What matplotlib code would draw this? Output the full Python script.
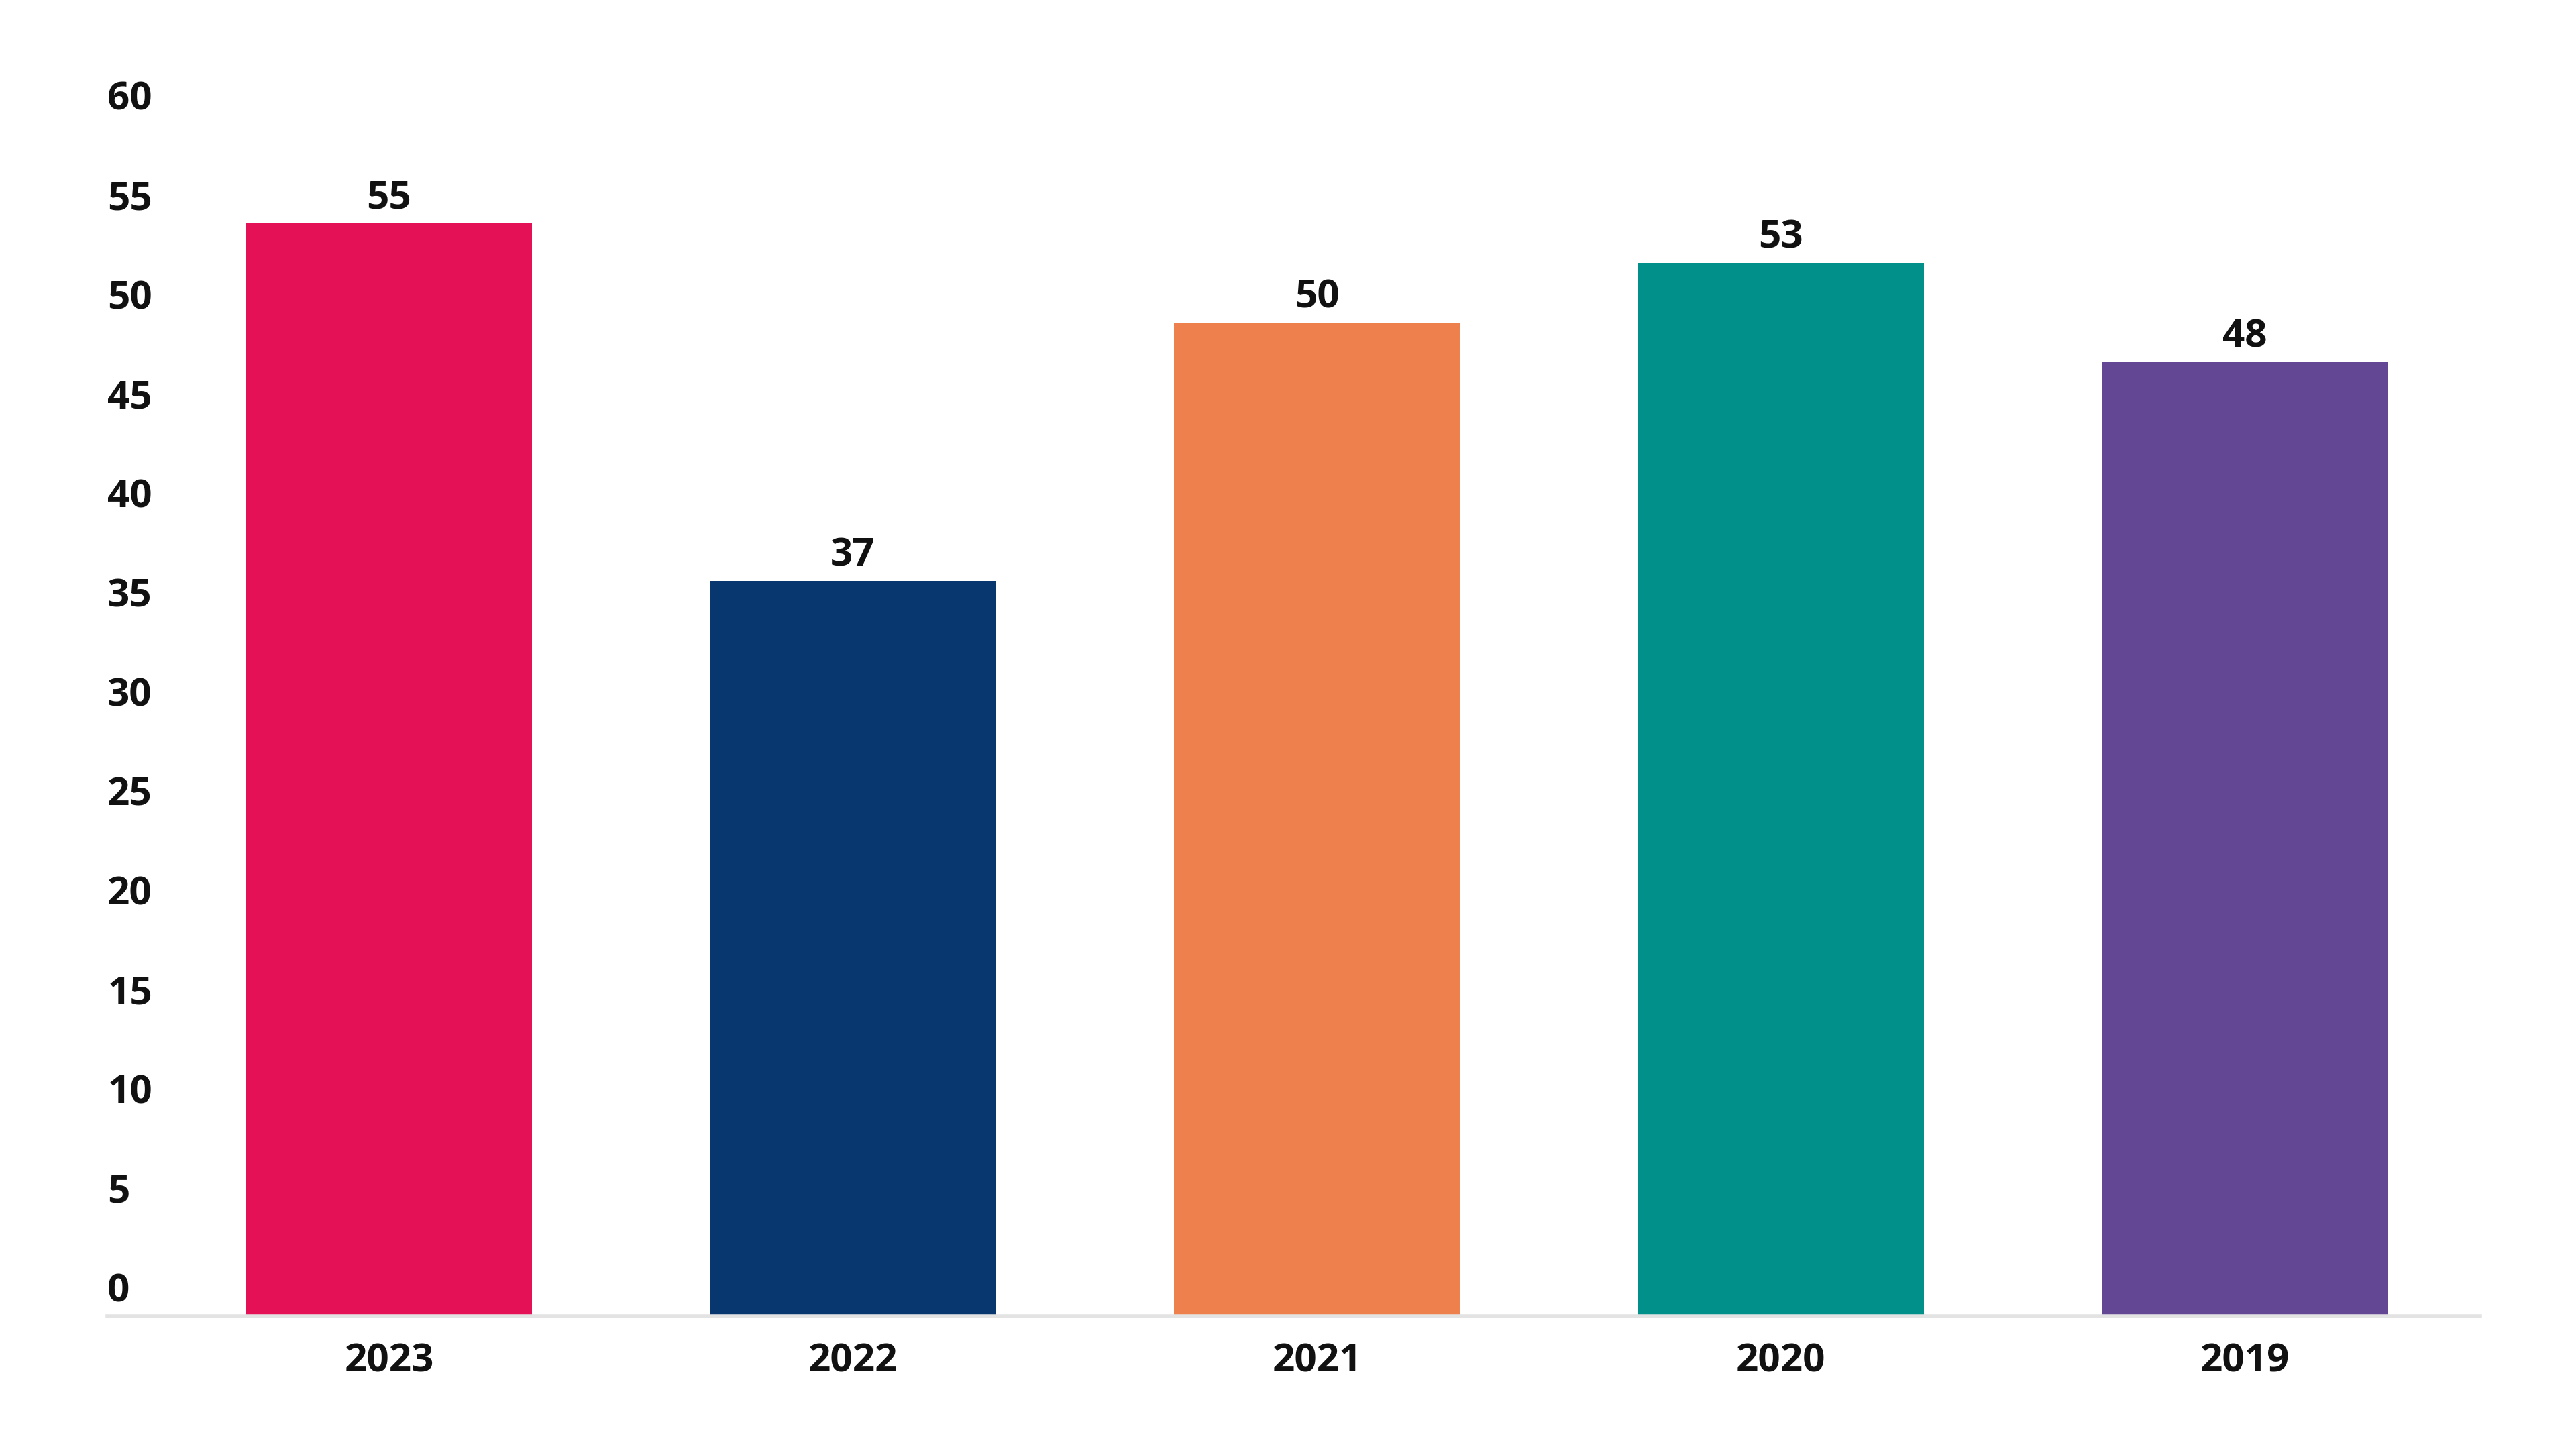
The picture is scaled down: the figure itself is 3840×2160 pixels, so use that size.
import matplotlib.pyplot as plt
from matplotlib.transforms import ScaledTranslation

years = ['2023', '2022', '2021', '2020', '2019']
values = [55, 37, 50, 53, 48]
colors = ['#E51156', '#083770', '#EE804E', '#01918A', '#634795']
yticks = list(range(0, 61, 5))

plt.rcParams['font.family'] = ['Open Sans', 'DejaVu Sans']

fig = plt.figure(figsize=(19.2, 10.8), dpi=200)
ax = fig.add_axes([0.0417, 0.0917, 0.9211, 0.8227])

x = list(range(len(years)))
bars = ax.bar(x, values, width=0.616, color=colors)

# value labels over the bars
for b, v in zip(bars, values):
    ax.annotate(str(v), (b.get_x() + b.get_width() / 2, v), xytext=(0, 3),
                textcoords='offset points', ha='center', va='bottom',
                fontsize=21, fontweight='bold', color='#111111')

ax.set_xlim(-0.607, 4.507)
ax.set_ylim(0, 60)
ax.set_xticks(x)
ax.set_xticklabels(years, fontsize=21, fontweight='bold', color='#111111')
ax.set_yticks(yticks)
ax.set_yticklabels([str(t) for t in yticks], fontsize=21, fontweight='bold',
                   color='#111111')
ax.tick_params(axis='both', length=0)
ax.tick_params(axis='x', pad=14)
ax.tick_params(axis='y', pad=0)

# y labels sit left-aligned at the axis edge, a bit above their value
shift = ScaledTranslation(0, 2.5 / 72, fig.dpi_scale_trans)
for lab in ax.get_yticklabels():
    lab.set_horizontalalignment('left')
    lab.set_verticalalignment('bottom')
    lab.set_transform(lab.get_transform() + shift)

for s in ['top', 'right', 'left']:
    ax.spines[s].set_visible(False)
ax.spines['bottom'].set_color('#e3e3e3')
ax.spines['bottom'].set_linewidth(2)

fig.savefig('out.png', dpi=200, facecolor='white')
